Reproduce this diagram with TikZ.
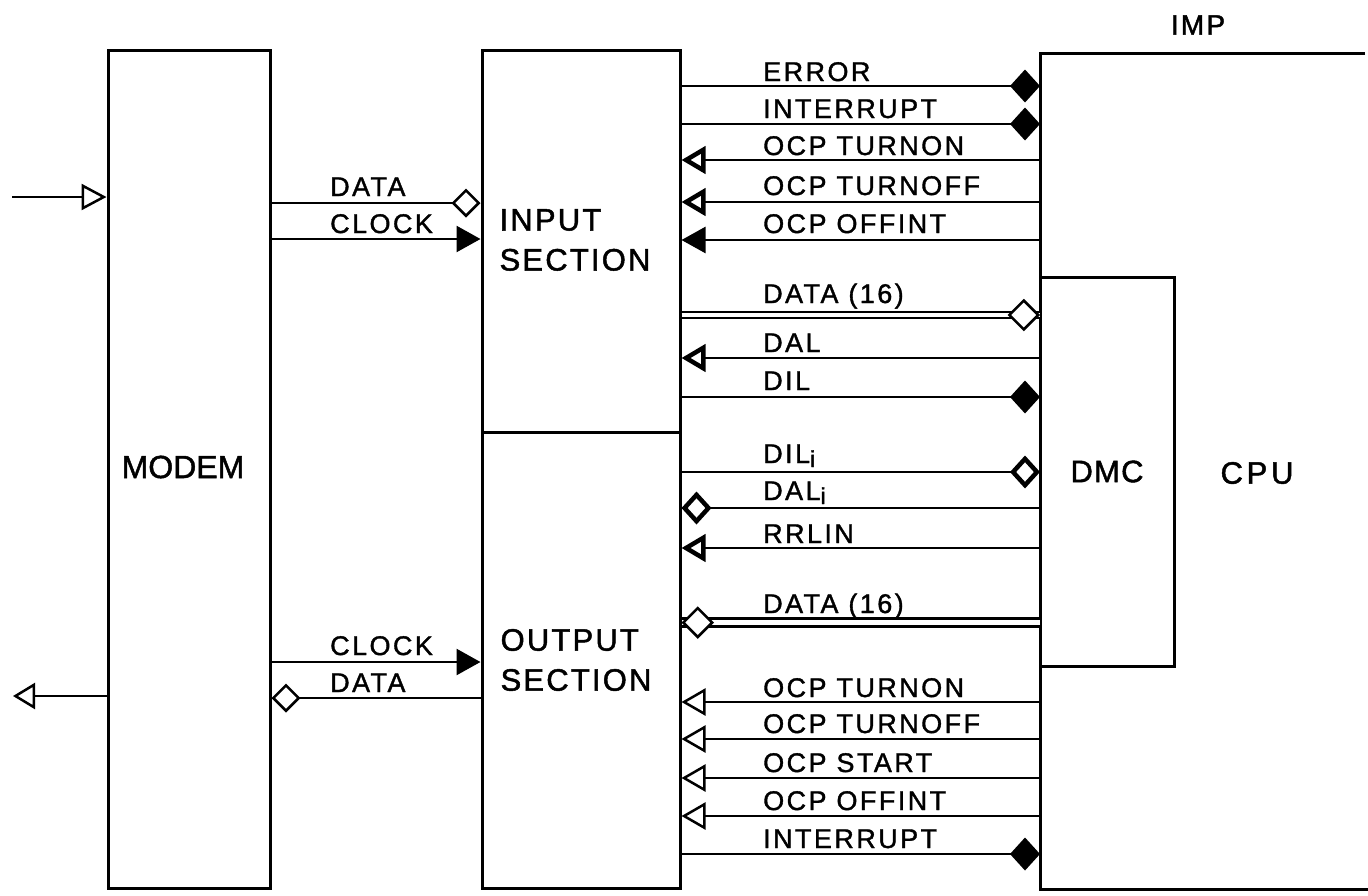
\documentclass[tikz,border=0pt]{standalone}
\usepackage{fontspec}
\setmainfont{Liberation Sans}
\newfontfamily\sigfont[LetterSpace=9,FakeBold=1.3]{Liberation Sans}
\newfontfamily\bigfont[LetterSpace=7,FakeBold=1.5]{Liberation Sans}
\newfontfamily\modfont[LetterSpace=0,FakeBold=1.5]{Liberation Sans}
\newfontfamily\cpufont[LetterSpace=12,FakeBold=1.5]{Liberation Sans}
\newfontfamily\dmcfont[LetterSpace=4,FakeBold=1.5]{Liberation Sans}
\newfontfamily\impfont[LetterSpace=8,FakeBold=1.5]{Liberation Sans}
\usetikzlibrary{arrows.meta,shapes.geometric}
\tikzset{
  box/.style={draw, line width=3pt, inner sep=0pt},
  sig/.style={line width=2.5pt},
  dbl/.style={double, line width=2.6pt},
  lab/.style={font=\sigfont\fontsize{27}{32}\selectfont, inner sep=0pt, anchor=base west},
  big/.style={font=\bigfont\fontsize{31}{38}\selectfont, inner sep=0pt, align=left},
  ftri/.tip={Triangle[length=24pt,width=26pt]},
  ttri/.tip={Triangle[open,length=24pt,width=27pt,line width=4.5pt]},
  otri/.tip={Triangle[open,length=24pt,width=27pt,line width=2.5pt]},
  fdia/.tip={Diamond[length=30pt,width=33pt]},
  tdia/.tip={Diamond[open,length=30pt,width=33pt,line width=4.5pt]},
  odia/.tip={Diamond[open,length=29pt,width=29pt,line width=2.5pt]},
  dmd/.style={draw, diamond, fill=white, line width=2.5pt, inner sep=0pt, minimum width=30pt, minimum height=30pt},
}
\begin{document}
\begin{tikzpicture}[x=1pt,y=-1pt]
\useasboundingbox (0,0) rectangle (1368,895);
% boxes
\node[box, minimum width=162pt, minimum height=838pt] (modem) at (189,469) {};
\node[font=\modfont\fontsize{32}{38}\selectfont, inner sep=0pt] (modemlab) at (183,467) {MODEM};
\node[box, minimum width=198pt, minimum height=382pt] (inp) at (581,241) {};
\node[big] (inplab) at (575,240) {INPUT\\[2pt]SECTION};
\node[box, minimum width=198pt, minimum height=456pt] (out) at (581,660) {};
\node[big] (outlab) at (576,660) {OUTPUT\\[2pt]SECTION};
\node[inner sep=0pt, minimum width=328pt, minimum height=836pt, anchor=north west] (imp) at (1040,53) {};
\draw[line width=3pt] (1365,53) -- (imp.north west) -- (imp.south west) -- (imp.south east);
\node[box, minimum width=134pt, minimum height=389pt, font=\dmcfont\fontsize{31}{38}\selectfont] (dmc) at (1107,471.5) {DMC};
\node[font=\cpufont\fontsize{31}{38}\selectfont, inner sep=0pt] (cpu) at (1257,473) {CPU};
\node[font=\impfont\fontsize{28}{32}\selectfont, inner sep=0pt] (implab) at (1198,25) {IMP};

% left side
\coordinate (inL) at (12,197);
\coordinate (outL) at (13,696);
\draw[sig,-{Triangle[open,length=25pt,width=26pt,line width=2.5pt]}] (inL) -- (modem.west |- 0,197);
\draw[sig,-{Triangle[open,length=22pt,width=26pt,line width=2.5pt]}] (modem.west |- 0,696) -- (outL);
\draw[sig,-{odia}] (modem.east |- 0,203) -- (inp.west |- 0,203);
\node[lab] (ldata1) at (330,196) {DATA};
\draw[sig,-{ftri}] (modem.east |- 0,239) -- (inp.west |- 0,239);
\node[lab] (lclock1) at (330,233) {CLOCK};
\draw[sig,-{ftri}] (modem.east |- 0,662) -- (out.west |- 0,662);
\node[lab] (lclock2) at (330,655) {CLOCK};
\draw[sig,-{odia}] (out.west |- 0,698) -- (modem.east |- 0,698);
\node[lab] (ldata2) at (330,692) {DATA};

% right side, input section
\draw[sig,-{fdia}] (inp.east |- 0,86) -- (imp.west |- 0,86);
\node[lab] (r1) at (763,81) {ERROR};
\draw[sig,-{fdia}] (inp.east |- 0,124) -- (imp.west |- 0,124);
\node[lab] (r2) at (763,118) {INTERRUPT};
\draw[sig,-{ttri}] (imp.west |- 0,160) -- (inp.east |- 0,160);
\node[lab] (r3) at (763,155) {OCP TURNON};
\draw[sig,-{ttri}] (imp.west |- 0,202) -- (inp.east |- 0,202);
\node[lab] (r4) at (763,195) {OCP TURNOFF};
\draw[sig,-{ftri}] (imp.west |- 0,240) -- (inp.east |- 0,240);
\node[lab] (r5) at (763,233) {OCP OFFINT};
\draw[dbl, double distance=3.5pt] (inp.east |- 0,315) -- (imp.west |- 0,315) node[dmd, pos=1, anchor=east] (d1) {};
\node[lab] (r6) at (763,303) {DATA (16)};
\draw[sig,-{ttri}] (imp.west |- 0,358) -- (inp.east |- 0,358);
\node[lab] (r7) at (763,352) {DAL};
\draw[sig,-{fdia}] (inp.east |- 0,397) -- (imp.west |- 0,397);
\node[lab] (r8) at (763,390) {DIL};
% output section
\draw[sig,-{tdia}] (out.east |- 0,472) -- (imp.west |- 0,472);
\node[lab] (r9) at (763,463) {DIL{\fontsize{23}{23}\selectfont\raisebox{-4pt}{i}}};
\draw[sig,-{tdia}] (imp.west |- 0,508) -- (out.east |- 0,508);
\node[lab] (r10) at (763,500) {DAL{\fontsize{23}{23}\selectfont\raisebox{-4pt}{i}}};
\draw[sig,-{ttri}] (imp.west |- 0,548) -- (out.east |- 0,548);
\node[lab] (r11) at (763,543) {RRLIN};
\draw[dbl, double distance=5pt] (imp.west |- 0,622.5) -- (out.east |- 0,622.5) node[dmd, pos=1, anchor=west] (d2) {};
\node[lab] (r12) at (763,613) {DATA (16)};
\draw[sig,-{otri}] (imp.west |- 0,702) -- (out.east |- 0,702);
\node[lab] (r13) at (763,697) {OCP TURNON};
\draw[sig,-{otri}] (imp.west |- 0,739) -- (out.east |- 0,739);
\node[lab] (r14) at (763,733) {OCP TURNOFF};
\draw[sig,-{otri}] (imp.west |- 0,778) -- (out.east |- 0,778);
\node[lab] (r15) at (763,772) {OCP START};
\draw[sig,-{otri}] (imp.west |- 0,816) -- (out.east |- 0,816);
\node[lab] (r16) at (763,810) {OCP OFFINT};
\draw[sig,-{fdia}] (out.east |- 0,854) -- (imp.west |- 0,854);
\node[lab] (r17) at (763,848) {INTERRUPT};
\end{tikzpicture}
\end{document}
